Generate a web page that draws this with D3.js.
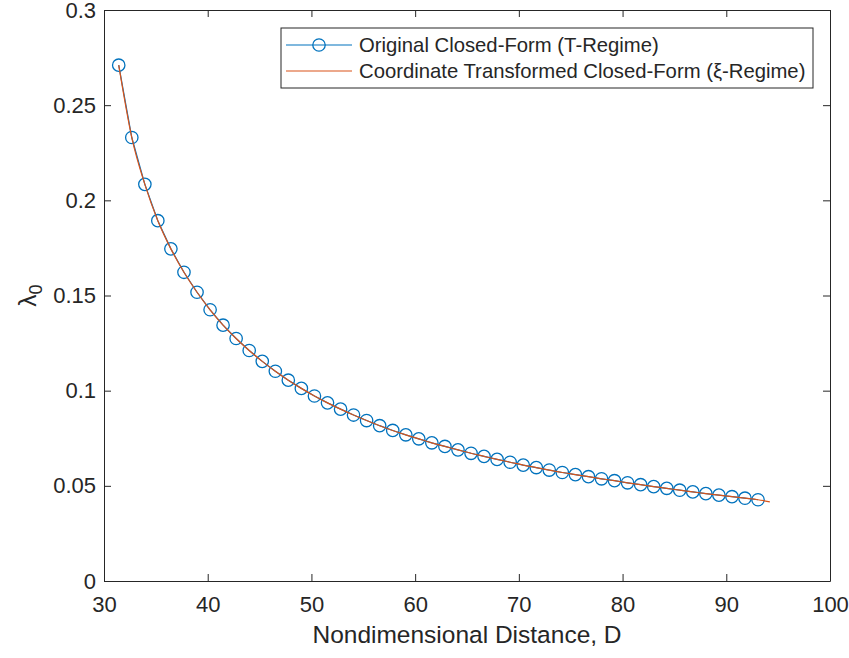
<!DOCTYPE html>
<html>
<head>
<meta charset="utf-8">
<script src="https://cdn.jsdelivr.net/npm/d3@7"></script>
<style>
    html, body { margin: 0; padding: 0; background: #fff; }
    svg { display: block; font-family: "Liberation Sans", Arial, Helvetica, sans-serif; }
</style>
</head>
<body>
<svg id="chart" width="849" height="658"></svg>
<script>
// values
const distance = [
    31.42, 32.68, 33.94, 35.19, 36.45, 37.71, 38.97, 40.23, 41.48, 42.74,
    44.00, 45.26, 46.52, 47.77, 49.03, 50.29, 51.55, 52.81, 54.06, 55.32,
    56.58, 57.84, 59.10, 60.35, 61.61, 62.87, 64.13, 65.39, 66.64, 67.90,
    69.16, 70.42, 71.68, 72.93, 74.19, 75.45, 76.71, 77.97, 79.22, 80.48,
    81.74, 83.00, 84.26, 85.51, 86.77, 88.03, 89.29, 90.55, 91.80, 93.06
];
const lambdaT = [
    0.2710, 0.2330, 0.2084, 0.1893, 0.1745, 0.1622, 0.1517, 0.1425, 0.1344, 0.1274,
    0.1211, 0.1154, 0.1102, 0.1055, 0.1012, 0.0972, 0.0936, 0.0903, 0.0872, 0.0843,
    0.0816, 0.0791, 0.0768, 0.0747, 0.0726, 0.0707, 0.0689, 0.0671, 0.0655, 0.0639,
    0.0624, 0.0609, 0.0596, 0.0583, 0.0570, 0.0559, 0.0548, 0.0537, 0.0527, 0.0516,
    0.0506, 0.0496, 0.0487, 0.0477, 0.0468, 0.0459, 0.0451, 0.0443, 0.0435, 0.0427
];
// xi-regime curve runs a little further than the markers
const distanceXi = distance.concat([94.2]);
const lambdaXi = lambdaT.concat([0.0416]);

const xTicks = [30, 40, 50, 60, 70, 80, 90, 100];
const yTicks = [0, 0.05, 0.1, 0.15, 0.2, 0.25, 0.3];
const yTickLabels = ['0', '0.05', '0.1', '0.15', '0.2', '0.25', '0.3'];
const seriesNames = [
    'Original Closed-Form (T-Regime)',
    'Coordinate Transformed Closed-Form (\u03BE-Regime)'
];

const BLUE = '#0072BD',
    RED = '#D95319',
    AXIS = '#262626';

const svg = d3.select('#chart'),
    margin = {top: 10, right: 19, bottom: 77, left: 104},
    width = +svg.attr('width') - margin.left - margin.right,
    height = +svg.attr('height') - margin.top - margin.bottom,
    g = svg.append('g').attr('transform', `translate(${margin.left},${margin.top})`),
    x = d3.scaleLinear().domain([30, 100]).range([0, width]),
    y = d3.scaleLinear().domain([0, 0.3]).range([height, 0]);

const tSeries = distance.map((d, i) => ({d: d, v: lambdaT[i]})),
    xiSeries = distanceXi.map((d, i) => ({d: d, v: lambdaXi[i]}));

// axes, ticks pointing inwards on all four sides
function styleAxis(sel) {
    sel.select('.domain').attr('stroke', AXIS).attr('stroke-width', 1);
    sel.selectAll('.tick line').attr('stroke', AXIS).attr('stroke-width', 1);
    sel.selectAll('.tick text').attr('fill', AXIS).style('font-size', '22px');
}

g.append('g')
    .attr('transform', `translate(0,${height})`)
    .call(d3.axisBottom(x).tickValues(xTicks).tickSize(-7).tickSizeOuter(0).tickPadding(15))
    .call(styleAxis);
g.append('g')
    .call(d3.axisTop(x).tickValues(xTicks).tickSize(-7).tickSizeOuter(0).tickFormat(''))
    .call(styleAxis);
g.append('g')
    .call(d3.axisLeft(y).tickValues(yTicks).tickSize(-7).tickSizeOuter(0).tickPadding(8)
        .tickFormat((d, i) => yTickLabels[i]))
    .call(styleAxis);
g.append('g')
    .attr('transform', `translate(${width},0)`)
    .call(d3.axisRight(y).tickValues(yTicks).tickSize(-7).tickSizeOuter(0).tickFormat(''))
    .call(styleAxis);

// T-regime: line with open circles
const line = d3.line().x((p) => x(p.d)).y((p) => y(p.v));
g.append('path')
    .datum(tSeries)
    .attr('fill', 'none')
    .attr('stroke', BLUE)
    .attr('stroke-width', 1.2)
    .attr('d', line);
g.selectAll('circle.t')
    .data(tSeries)
    .enter().append('circle')
        .attr('class', 't')
        .attr('cx', (p) => x(p.d))
        .attr('cy', (p) => y(p.v))
        .attr('r', 6.2)
        .attr('fill', 'none')
        .attr('stroke', BLUE)
        .attr('stroke-width', 1.3);

// xi-regime on top
g.append('path')
    .datum(xiSeries)
    .attr('fill', 'none')
    .attr('stroke', RED)
    .attr('stroke-width', 1.2)
    .attr('d', line.curve(d3.curveMonotoneX));

// axis labels
svg.append('text')
    .attr('x', margin.left + width / 2)
    .attr('y', 643)
    .attr('text-anchor', 'middle')
    .attr('fill', AXIS)
    .style('font-size', '24.5px')
    .text('Nondimensional Distance, D');

const ylab = svg.append('text')
    .attr('transform', `translate(36,${margin.top + height / 2}) rotate(-90)`)
    .attr('text-anchor', 'middle')
    .attr('fill', AXIS)
    .style('font-size', '24.5px');
ylab.append('tspan').text('\u03BB');
ylab.append('tspan').attr('dy', 6).style('font-size', '18px').text('0');

// legend
const legendW = 532,
    legend = g.append('g').attr('transform', `translate(${width - legendW - 17},18)`);
legend.append('rect')
    .attr('width', legendW)
    .attr('height', 60)
    .attr('fill', '#fff')
    .attr('stroke', AXIS)
    .attr('stroke-width', 1);
seriesNames.forEach((name, i) => {
    const row = legend.append('g').attr('transform', `translate(0,${17 + i * 26})`),
        color = i === 0 ? BLUE : RED;
    row.append('line')
        .attr('x1', 5).attr('x2', 71)
        .attr('stroke', color)
        .attr('stroke-width', 1.2);
    if(i === 0) {
        row.append('circle')
            .attr('cx', 38)
            .attr('r', 6.2)
            .attr('fill', 'none')
            .attr('stroke', color)
            .attr('stroke-width', 1.3);
    }
    row.append('text')
        .attr('x', 78)
        .attr('dy', '0.35em')
        .attr('fill', AXIS)
        .style('font-size', '20.3px')
        .text(name);
});
</script>
</body>
</html>
